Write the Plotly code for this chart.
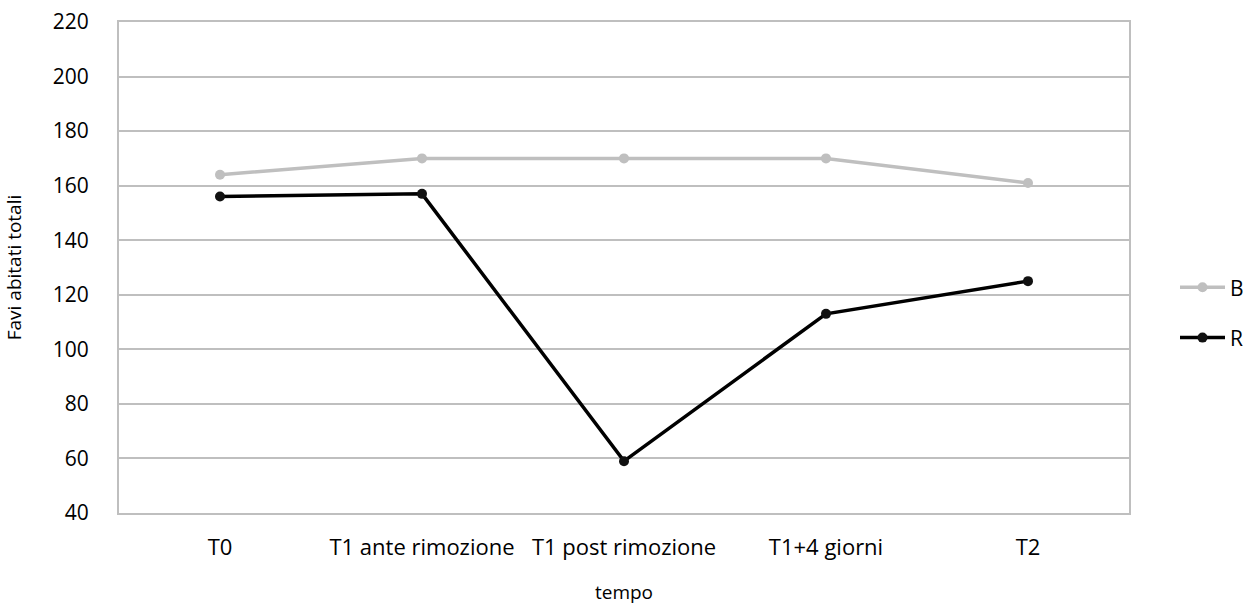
import plotly.graph_objects as go

categories = ["T0", "T1 ante rimozione", "T1 post rimozione", "T1+4 giorni", "T2"]
B_values = [164, 170, 170, 170, 161]
R_values = [156, 157, 59, 113, 125]
y_ticks = [40, 60, 80, 100, 120, 140, 160, 180, 200, 220]

FONT = "Open Sans"
GRID = "#BFBFBF"

fig = go.Figure()
fig.add_trace(go.Scatter(
    x=categories, y=B_values, name="B", mode="lines+markers",
    line=dict(color="#BFBFBF", width=3.5), marker=dict(color="#BFBFBF", size=10),
    legendgroup="B",
))
fig.add_trace(go.Scatter(
    x=categories, y=R_values, name="R", mode="lines+markers",
    line=dict(color="#000000", width=3.5), marker=dict(color="#111111", size=10),
    legendgroup="R",
))

fig.update_layout(
    width=1243, height=608,
    margin=dict(l=119, r=114, t=22, b=95, autoexpand=False),
    paper_bgcolor="white", plot_bgcolor="white",
    font=dict(family=FONT, size=21, color="#000000"),
    legend=dict(
        x=(1175 - 119) / 1010, xanchor="left", y=0.408, yanchor="middle",
        traceorder="grouped", tracegroupgap=20, itemwidth=45,
        font=dict(size=21), bgcolor="rgba(0,0,0,0)",
    ),
    xaxis=dict(
        type="category", range=[-0.5, 4.5],
        showgrid=False, showline=True, linecolor=GRID, linewidth=2, mirror=True,
        ticks="", ticklabelstandoff=14, tickfont=dict(size=22),
        title=dict(text="tempo", font=dict(size=19), standoff=25),
        zeroline=False,
    ),
    yaxis=dict(
        range=[40, 220], tickvals=y_ticks,
        showgrid=True, gridcolor=GRID, gridwidth=1.5,
        showline=True, linecolor=GRID, linewidth=2, mirror=True,
        ticks="", ticklabelstandoff=24,
        title=dict(text="Favi abitati totali", font=dict(size=19), standoff=26),
        zeroline=False,
    ),
)

fig.write_html("out.html")
